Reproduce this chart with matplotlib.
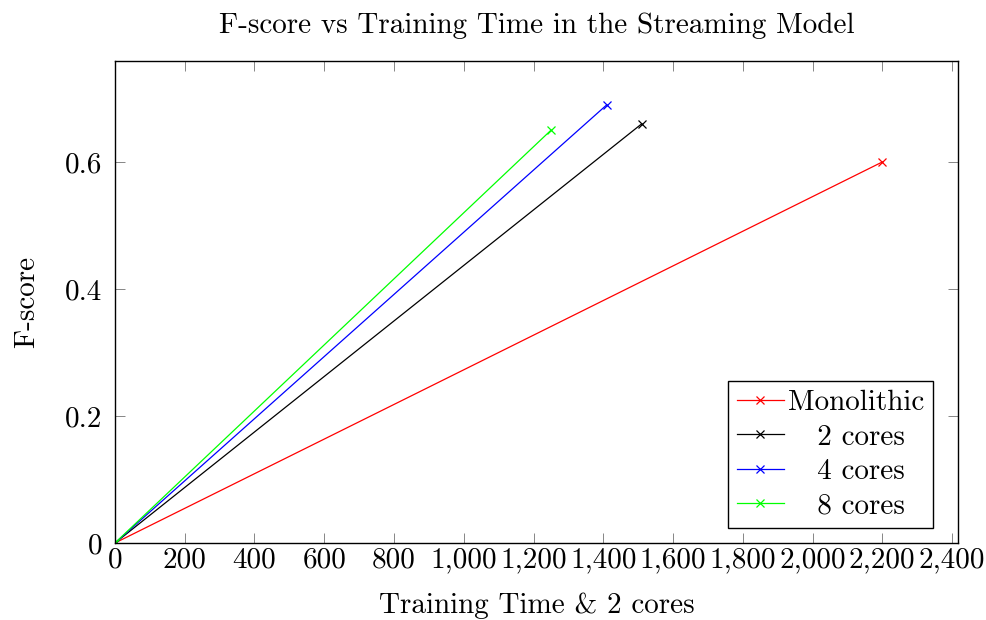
import matplotlib
matplotlib.use('Agg')
import matplotlib.pyplot as plt

plt.rcParams['font.family'] = ['cmr10', 'DejaVu Serif']
plt.rcParams['axes.formatter.use_mathtext'] = True

# Training time (x) and F-score (y) per configuration
series_names = ['Monolithic', '2 cores', '4 cores', '8 cores']
series_colors = ['#ff0000', '#000000', '#0000ff', '#00ff00']
time_mono = [0, 2200]
fscore_mono = [0, 0.60]
time_2 = [0, 1510]
fscore_2 = [0, 0.66]
time_4 = [0, 1410]
fscore_4 = [0, 0.69]
time_8 = [0, 1250]
fscore_8 = [0, 0.65]

xticks = [0, 200, 400, 600, 800, 1000, 1200, 1400, 1600, 1800, 2000, 2200, 2400]
yticks = [0, 0.2, 0.4, 0.6]
ytick_labels = ['0', '0.2', '0.4', '0.6']

FS = 21

fig = plt.figure(figsize=(9.86, 6.2), dpi=100)
ax = fig.add_axes([0.1166, 0.1242, 0.8550, 0.7774])

times = [time_mono, time_2, time_4, time_8]
scores = [fscore_mono, fscore_2, fscore_4, fscore_8]
# pad the shorter labels so they sit centred like the original legend
labels = ['Monolithic', '   2 cores', '   4 cores', '   8 cores']
for t, s, c, lab in zip(times, scores, series_colors, labels):
    ax.plot(t, s, color=c, lw=0.9, marker='x', markersize=6, mew=0.9, label=lab)

ax.set_xlim(0, 2417)
ax.set_ylim(0, 0.759)
ax.set_xticks(xticks)
ax.set_xticklabels([f'{v:,}' for v in xticks])
ax.set_yticks(yticks)
ax.set_yticklabels(ytick_labels)
ax.tick_params(direction='in', length=7, width=0.6, color='0.45',
               top=True, right=True, labelsize=FS)
ax.tick_params(axis='x', pad=3)
ax.tick_params(axis='y', pad=9)
for sp in ax.spines.values():
    sp.set_linewidth(1.0)

ax.set_title('F-score vs Training Time in the Streaming Model', fontsize=FS, pad=20)
ax.set_xlabel('Training Time & 2 cores', fontsize=FS, labelpad=14)
ax.set_ylabel('F-score', fontsize=FS, labelpad=18)

leg = ax.legend(loc='lower right', bbox_to_anchor=(0.9703, 0.0311),
                fontsize=FS, frameon=True, fancybox=False,
                edgecolor='black', framealpha=1, handlelength=1.6,
                handletextpad=0.15, labelspacing=0.27, borderpad=0.3,
                borderaxespad=0)
leg.get_frame().set_linewidth(1.0)

fig.savefig('out.png', dpi=100)
